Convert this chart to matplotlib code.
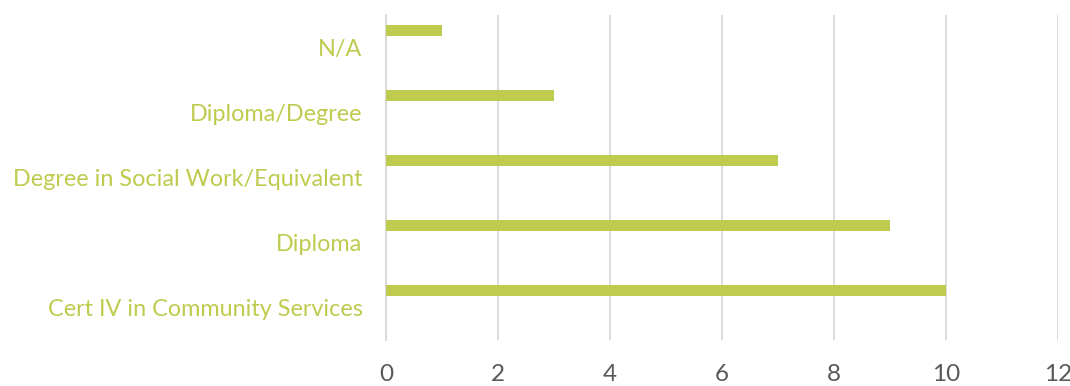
import matplotlib.pyplot as plt
import numpy as np

# qualification counts (bottom to top)
categories = ['Cert IV in Community Services', 'Diploma',
              'Degree in Social Work/Equivalent', 'Diploma/Degree', 'N/A']
counts = [10, 9, 7, 3, 1]
xticks = [0, 2, 4, 6, 8, 10, 12]

GREEN = '#BFCB4E'
GRID = '#D9D9D9'

plt.rcParams['font.family'] = ['Lato', 'DejaVu Sans']

fig = plt.figure(figsize=(10.7, 3.86), dpi=100)
ax = fig.add_axes([386 / 1070, 46 / 386, 672 / 1070, 325 / 386])

y = np.arange(len(categories))
ax.barh(y + 0.26, counts, height=0.17, color=GREEN, zorder=3)

ax.set_xlim(0, 12)
ax.set_ylim(-0.5, len(categories) - 0.5)
ax.set_xticks(xticks)
ax.set_xticklabels([str(t) for t in xticks])
ax.set_yticks(y)
ax.set_yticklabels(categories)

ax.grid(axis='x', color=GRID, linewidth=1.3, zorder=0)
for s in ['top', 'right', 'bottom']:
    ax.spines[s].set_visible(False)
ax.spines['left'].set_color(GRID)
ax.spines['left'].set_linewidth(1.3)

ax.tick_params(axis='both', length=0)
ax.tick_params(axis='x', labelsize=17.5, labelcolor='#595959', pad=17)
ax.tick_params(axis='y', labelsize=16.8, labelcolor=GREEN, pad=17)

fig.savefig('out.png', dpi=100)
